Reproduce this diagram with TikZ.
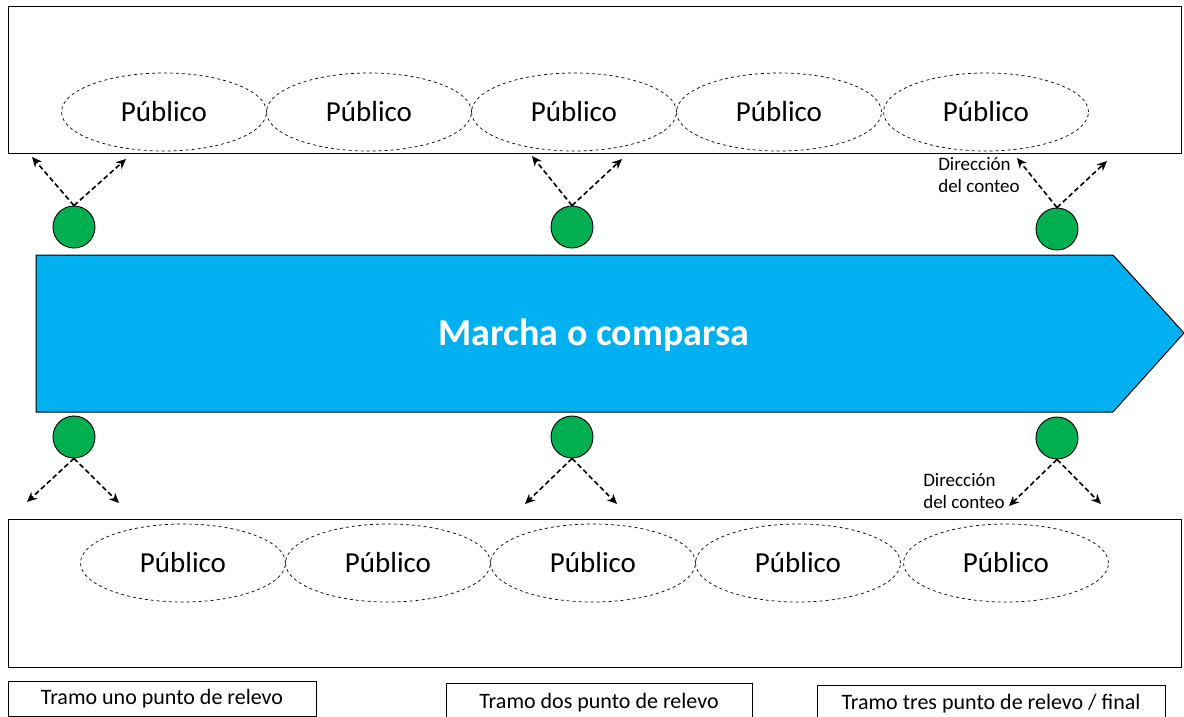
\documentclass[tikz,border=0pt]{standalone}
\usepackage{fontspec}
\setmainfont{Carlito}
\usetikzlibrary{arrows.meta,shapes.geometric}
\definecolor{marcha}{HTML}{00B0F0}
\definecolor{punto}{HTML}{00B050}
\begin{document}
\begin{tikzpicture}[x=1pt,y=-1pt,
  zone/.style={draw=black,line width=1pt},
  publico/.style={draw=black,dashed,ellipse,line width=0.7pt,minimum width=205pt,minimum height=78pt,inner sep=0pt,font=\fontsize{29}{32}\selectfont},
  relevo/.style={draw=black,fill=punto,circle,minimum size=42pt,inner sep=0pt,line width=0.9pt},
  conteo/.style={dash pattern=on 5pt off 3pt,line width=1.6pt,-{Stealth[length=10pt,width=9pt]}},
  etiqueta/.style={align=left,font=\fontsize{19}{22}\selectfont,inner sep=0pt},
  tramo/.style={draw=black,line width=1pt,inner sep=0pt,font=\fontsize{22}{24}\selectfont}
]
\useasboundingbox (0,0) rectangle (1184,717);
% zones
\node[zone,minimum width=1173pt,minimum height=146pt,inner sep=0pt] (zonaA) at (594.5,80) {};
\node[zone,minimum width=1173pt,minimum height=148pt,inner sep=0pt] (zonaB) at (594.5,593) {};
% publico top
\foreach \i/\x in {1/164,2/369,3/574,4/779,5/986}{
  \node[publico] (pa\i) at (\x,112) {Público};
}
\foreach \i/\x in {1/183,2/388,3/593,4/798,5/1006}{
  \node[publico] (pb\i) at (\x,563) {Público};
}
% marcha arrow
\draw[fill=marcha,line width=1pt] (36,255) -- (1113,255) -- (1184,333) -- (1113,412) -- (36,412) -- cycle;
\node[text=white,font=\bfseries\fontsize{38}{40}\selectfont] (marcha) at (594,335) {Marcha o comparsa};
% relay points
\node[relevo] (ra1) at (74,227) {};
\node[relevo] (ra2) at (572,227) {};
\node[relevo] (ra3) at (1057,229) {};
\node[relevo] (rb1) at (74,437) {};
\node[relevo] (rb2) at (572,437) {};
\node[relevo] (rb3) at (1057,438) {};
% arrow targets
\coordinate (ta1l) at (32,157); \coordinate (ta1r) at (126,159);
\coordinate (ta2l) at (532,156); \coordinate (ta2r) at (622,159);
\coordinate (ta3l) at (1017,158); \coordinate (ta3r) at (1107,161);
\coordinate (tb1l) at (27,502); \coordinate (tb1r) at (119,503);
\coordinate (tb2l) at (525,504); \coordinate (tb2r) at (617,504);
\coordinate (tb3l) at (1009,506); \coordinate (tb3r) at (1101,504);
\foreach \i in {1,2,3}{
  \draw[conteo] (ra\i.north) -- (ta\i l);
  \draw[conteo] (ra\i.north) -- (ta\i r);
  \draw[conteo] (rb\i.south) -- (tb\i l);
  \draw[conteo] (rb\i.south) -- (tb\i r);
}
\node[etiqueta] (dirA) at (979,175) {Dirección\\del conteo};
\node[etiqueta] (dirB) at (964,491) {Dirección\\del conteo};
% tramos
\node[tramo,minimum width=308pt,minimum height=35pt] (tramo1) at (162,698.5) {Tramo uno punto de relevo};
\node[tramo,minimum width=306pt,minimum height=40pt] (tramo2) at (599,703) {Tramo dos punto de relevo};
\node[tramo,minimum width=348pt,minimum height=38pt] (tramo3) at (991,704) {Tramo tres punto de relevo / final};
\end{tikzpicture}
\end{document}
